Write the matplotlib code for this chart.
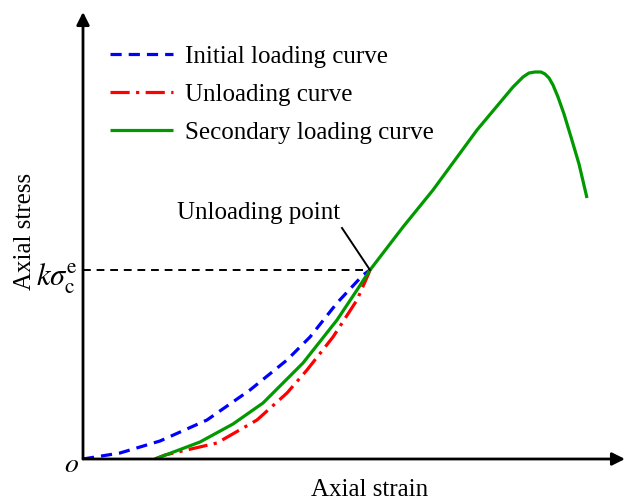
import matplotlib.pyplot as plt
import numpy as np

plt.rcParams['font.family'] = ['Liberation Serif', 'DejaVu Serif']
plt.rcParams['mathtext.fontset'] = 'stix'

# curve points (strain, stress) in plot units, origin at lower left of the axes
initial_strain = [0, 37, 77, 124, 167, 204, 227, 254, 280, 287]
initial_stress = [0, 6, 18, 39, 69, 99, 122, 156, 184, 189]

unload_strain = [72, 82, 134, 174, 204, 224, 250, 274, 285, 287]
unload_stress = [0, 4, 16, 39, 66, 89, 122, 159, 184, 189]

second_strain = [72, 117, 150, 180, 220, 254, 274, 287, 320, 350, 394, 430, 440, 446, 452,
                 458, 462, 466, 470, 475, 481, 488, 496, 504]
second_stress = [0, 17, 35, 56, 96, 139, 169, 189, 232, 269, 329, 372, 382, 386, 387,
                 387, 385, 381, 374, 362, 345, 322, 295, 261]

unload_point = (287, 189)
x_max, y_max = 542, 447

fig = plt.figure(figsize=(6.33, 5.03), dpi=100)
ax = fig.add_axes([83 / 633, 44 / 503, (625 - 83) / 633, (459 - 12) / 503])
ax.set_xlim(0, x_max)
ax.set_ylim(0, y_max)
ax.axis('off')

lw = 2.3
ax.plot(initial_strain, initial_stress, color='#0000ff', lw=lw, dashes=(3.5, 2.2),
        label='Initial loading curve')
ax.plot(unload_strain, unload_stress, color='#ff0000', lw=lw, dashes=(6, 2, 1, 2),
        label='Unloading curve')
ax.plot(second_strain, second_stress, color='#009900', lw=lw, solid_capstyle='butt',
        solid_joinstyle='round', label='Secondary loading curve')

# axes with arrow heads
arrow = dict(arrowstyle='-|>', color='black', lw=2, mutation_scale=19, shrinkA=0, shrinkB=0)
ax.annotate('', xy=(x_max, 0), xytext=(0, 0), arrowprops=arrow, annotation_clip=False)
ax.annotate('', xy=(0, y_max), xytext=(0, 0), arrowprops=arrow, annotation_clip=False)

# unloading level and pointer
ax.plot([0, unload_point[0]], [unload_point[1]] * 2, color='black', lw=1.4, dashes=(4, 3))
ax.plot([259, unload_point[0]], [231, unload_point[1]], color='black', lw=1.4)
ax.text(176, 246, 'Unloading point', ha='center', va='center', fontsize=18)

ax.text(-5, 180, r'$k\sigma_{\rm c}^{\rm e}$', ha='right', va='center', fontsize=22)
ax.text(-12, -6, r'$o$', ha='center', va='center', fontsize=20)
ax.text(287, -31, 'Axial strain', ha='center', va='center', fontsize=18)
ax.text(-58, 228, 'Axial stress', ha='center', va='center', rotation=90, fontsize=18)

ax.legend(loc='upper left', bbox_to_anchor=(0.05, 0.925), frameon=False, fontsize=18,
          handlelength=2.5, handletextpad=0.5, labelspacing=0.62, borderpad=0,
          borderaxespad=0)

fig.savefig('out.png', dpi=100)
